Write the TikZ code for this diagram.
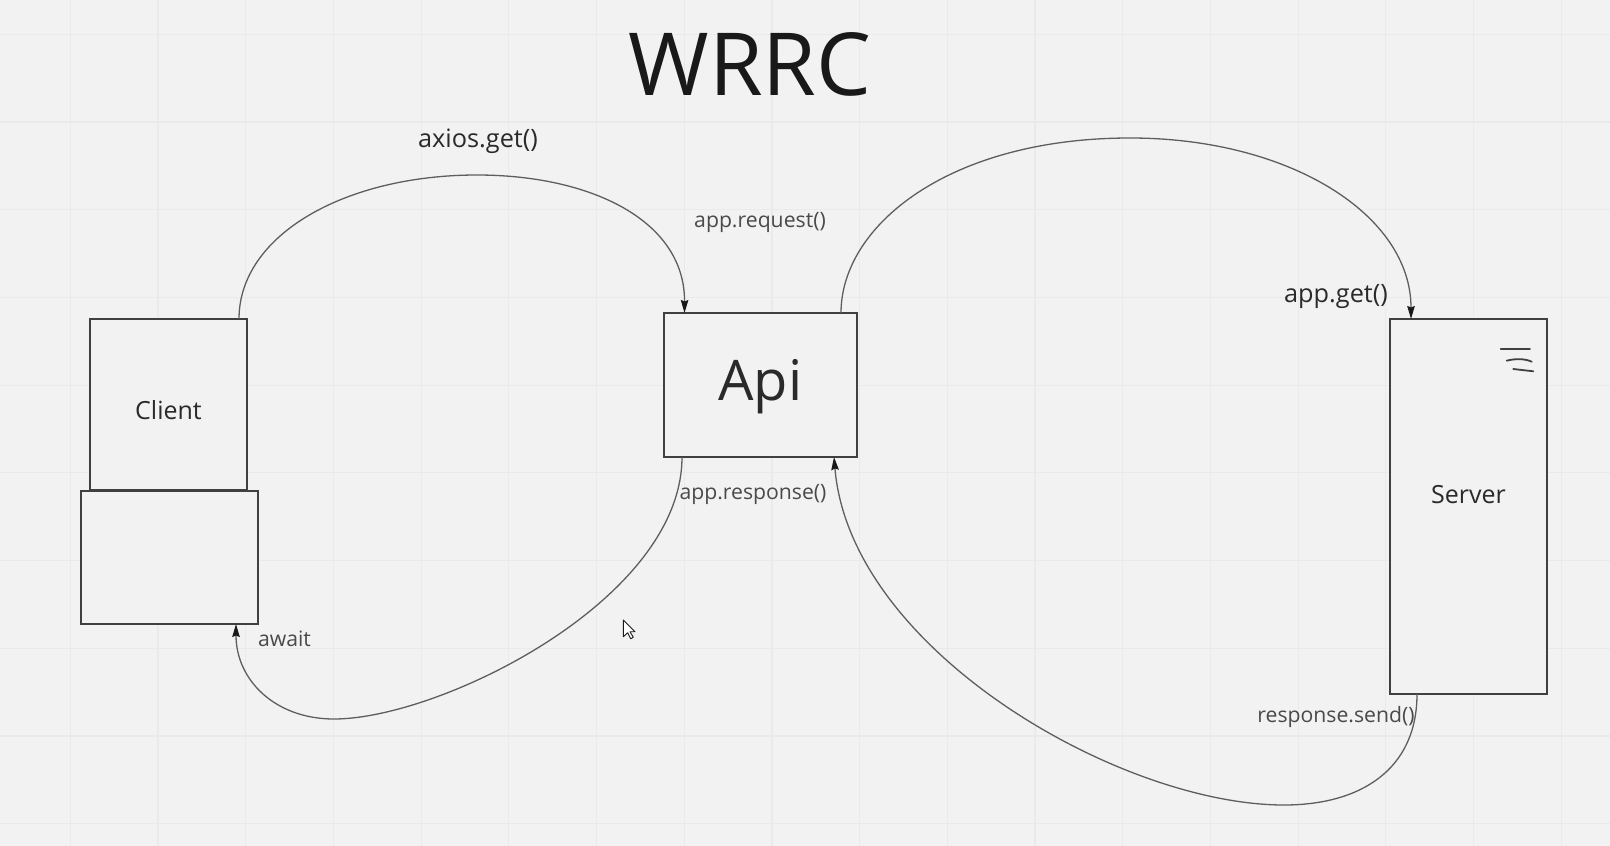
\documentclass[tikz,border=0pt]{standalone}
\usepackage{fontspec}
\setmainfont{Open Sans}
\usetikzlibrary{arrows.meta}
\definecolor{bgc}{HTML}{F2F2F2}
\definecolor{gridc}{HTML}{EAEAEA}
\definecolor{boxc}{HTML}{404040}
\definecolor{linec}{HTML}{5E5E5E}
\definecolor{textc}{HTML}{2A2A2A}
\tikzset{
  boxnode/.style={draw=boxc,line width=2pt,fill=bgc,inner sep=0pt,outer sep=0pt,anchor=north west},
  boxtext/.style={text=textc,inner sep=0pt,font=\fontsize{25}{29}\selectfont},
  lbl/.style={text=textc,inner sep=0pt,font=\fontsize{25.3}{29}\selectfont},
  lbls/.style={text=textc!85!white,inner sep=0pt,font=\fontsize{21.2}{25}\selectfont},
  conn/.style={draw=linec,line width=1.3pt},
  connarrow/.style={conn,-{Stealth[inset=1.5pt,length=13pt,width=7.5pt,color=black!90]}},
  gridline/.style={draw=gridc,line width=1.2pt},
  scribble/.style={draw=boxc,line width=1.8pt,line cap=round}
}
\begin{document}
\begin{tikzpicture}[x=1pt,y=-1pt]
\path[fill=bgc] (0,0) rectangle (1610,846);
\useasboundingbox (0,0) rectangle (1610,846);
\foreach \k in {0,...,17} {\draw[gridline] ({70.3+87.7*\k},0) -- ({70.3+87.7*\k},846);}
\foreach \k in {0,...,9} {\draw[gridline] (0,{34.3+87.7*\k}) -- (1610,{34.3+87.7*\k});}
% boxes
\node[boxnode,minimum width=157pt,minimum height=171pt] (client) at (90,319) {};
\node[boxnode,minimum width=177pt,minimum height=133pt] (await) at (80.5,491) {};
\node[boxnode,minimum width=193pt,minimum height=144pt] (api) at (664,313) {};
\node[boxnode,minimum width=157pt,minimum height=375pt] (server) at (1390,319) {};
\node[boxtext] (clienttext) at ([yshift=-5.5pt]client.center) {Client};
\node[boxtext,font=\fontsize{56}{64}\selectfont] (apitext) at ([yshift=-2pt]api.center) {Api};
\node[boxtext] (servertext) at ([yshift=11.5pt]server.center) {Server};
% title and labels
\node[text=black!90,inner sep=0pt,font=\fontsize{87}{97}\selectfont] (title) at (750,64) {WRRC};
\node[lbl] (laxios) at (478,141) {axios.get()};
\node[lbls] (lreq) at (760,222) {app.request()};
\node[lbl] (lget) at (1336,297) {app.get()};
\node[lbls] (lresp) at (753,494) {app.response()};
\node[lbls] (lawait) at (284.5,639) {await};
\node[lbls] (lsend) at (1336,717) {response.send()};
% connector ends
\coordinate (c1) at ([xshift=-8pt]client.north east);
\coordinate (a1) at ([xshift=20.5pt]api.north west);
\coordinate (a2) at ([xshift=-16pt]api.north east);
\coordinate (s1) at ([xshift=21pt]server.north west);
\coordinate (s2) at ([xshift=27pt]server.south west);
\coordinate (a3) at ([xshift=-23pt]api.south east);
\coordinate (a4) at ([xshift=18pt]api.south west);
\coordinate (w1) at ([xshift=155.5pt]await.south west);
% connectors
\draw[connarrow] (c1) .. controls (239,235) and (345,175) .. (477,175)
  .. controls (590,175) and (685,220) .. (a1);
\draw[connarrow] (a2) .. controls (841,225) and (950,138) .. (1130,138)
  .. controls (1290,138) and (1411,215) .. (s1);
\draw[connarrow] (s2) .. controls (1417,770) and (1360,805) .. (1284,805)
  .. controls (1120,805) and (850,650) .. (a3);
\draw[connarrow] (a4) .. controls (682,600) and (440,719) .. (334,719)
  .. controls (275,719) and (236,680) .. (w1);
% scribble on server
\draw[scribble] (1500.7,349.3) -- (1530,349.3);
\draw[scribble] (1506.7,360.7) .. controls (1515,358.5) and (1525,358.5) .. (1531.7,361.7);
\draw[scribble] (1513.3,369) -- (1533.3,371.3);
% cursor
\draw[draw=black!90,fill=white,line width=.9pt,line join=round] (623.3,620) -- (623.3,636.7) -- (627.7,632.7) -- (630.7,638.7) -- (633.3,637.3) -- (630,631.7) -- (635,631.7) -- cycle;
\end{tikzpicture}
\end{document}
